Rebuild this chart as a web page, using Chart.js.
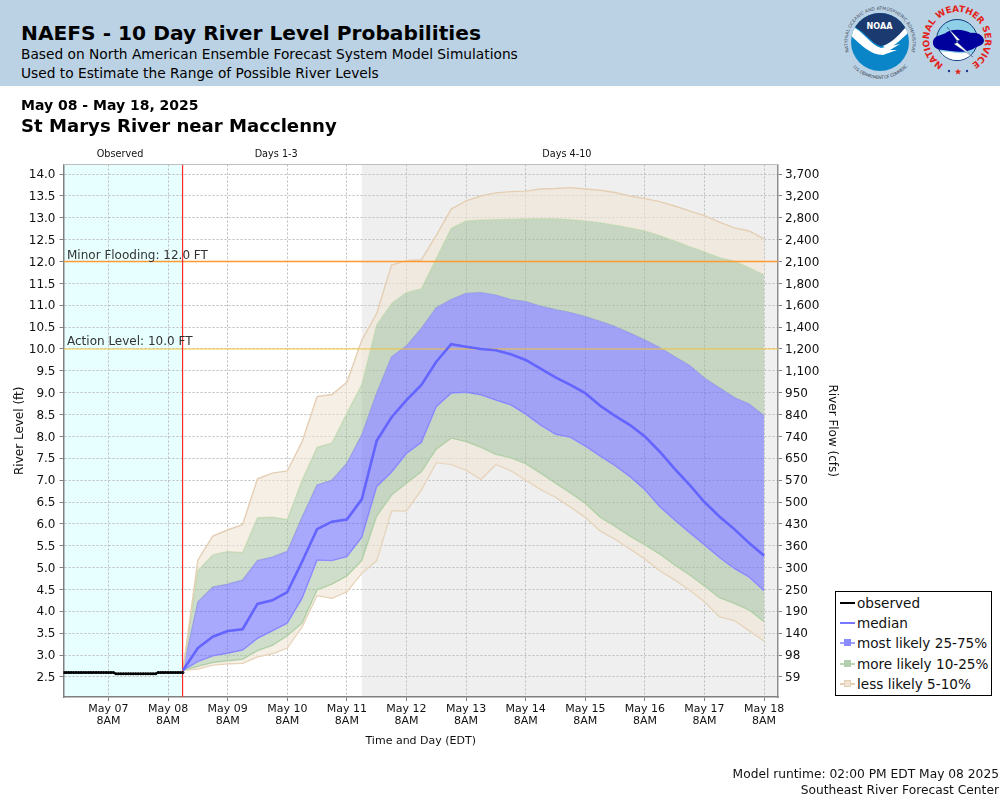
<!DOCTYPE html>
<html><head><meta charset="utf-8"><title>NAEFS River Level Probabilities</title>
<script src="https://cdn.jsdelivr.net/npm/chart.js@4/dist/chart.umd.min.js"></script>
<style>
html,body{margin:0;padding:0;background:#fff;width:1000px;height:800px;overflow:hidden;font-family:"DejaVu Sans",sans-serif;color:#000}
#wrap{position:relative;width:1000px;height:800px}
#chart{position:absolute;left:0;top:0}
#hdr{position:absolute;left:0;top:0;width:1000px;height:86px;background:#bbd2e5}
.t{position:absolute;white-space:nowrap}
#legend{position:absolute;left:835px;top:591px;width:155px;height:103px;border:1px solid #000;background:#fff;z-index:3}
.row{position:absolute;left:0;height:20px;width:155px;font-size:13.6px;line-height:20px;color:#111}
.row span{position:absolute;left:21px;top:0;white-space:nowrap}
.row i{position:absolute;left:4px;top:9px;width:15px;height:2px}
.row b{position:absolute;left:8px;top:6px;width:7px;height:7px;border:0}
</style></head><body><div id="wrap">
<canvas id="chart" width="1000" height="800"></canvas>
<div id="hdr">
<div class="t" style="left:21px;top:21px;font-size:20.2px;font-weight:bold">NAEFS - 10 Day River Level Probabilities</div>
<div class="t" style="left:21px;top:46px;font-size:13.76px">Based on North American Ensemble Forecast System Model Simulations</div>
<div class="t" style="left:21px;top:65px;font-size:13.76px">Used to Estimate the Range of Possible River Levels</div>
<svg class="t" style="left:835px;top:0" width="165" height="86" viewBox="0 0 165 86">
<defs>
<path id="ring1" d="M 14 52 A 32.5 32.5 0 1 1 76 52"/>
<path id="ring2" d="M 18 67 A 36.5 36.5 0 0 0 72 67"/>
<path id="ring3" d="M 108.5 64.5 A 28 28 0 1 1 135.5 64.5"/>
<clipPath id="noaaC"><circle cx="45" cy="42" r="29"/></clipPath>
<clipPath id="nwsC"><circle cx="122" cy="40" r="20"/></clipPath>
</defs>
<text font-size="4.4" fill="#3d4a58" font-family="DejaVu Sans" textLength="130" lengthAdjust="spacing"><textPath href="#ring1">NATIONAL OCEANIC AND ATMOSPHERIC ADMINISTRATION</textPath></text>
<text font-size="4.4" fill="#3d4a58" font-family="DejaVu Sans" textLength="64" lengthAdjust="spacing"><textPath href="#ring2">U.S. DEPARTMENT OF COMMERCE</textPath></text>
<g clip-path="url(#noaaC)">
<rect x="14" y="11" width="62" height="62" fill="#0a85c8"/>
<path d="M14 11H76V27C66 35 56 44 46 46C36 44 30 30 14 24Z" fill="#1b3a6f"/>
<path d="M14 25C28 30 34 44 46 48L65 44L55 50L62 50L48 55C34 55 24 42 14 34Z" fill="#fff"/>
<path d="M76 20C66 34 58 42 48 46L52 49C60 46 68 38 76 30Z" fill="#fff"/>
</g>
<text x="44.5" y="29" text-anchor="middle" font-size="9.5" font-weight="bold" fill="#fff" font-family="DejaVu Sans" textLength="26" lengthAdjust="spacingAndGlyphs">NOAA</text>
<text font-size="9" font-weight="bold" fill="#e2231a" font-family="DejaVu Sans" textLength="146" lengthAdjust="spacing"><textPath href="#ring3">NATIONAL WEATHER SERVICE</textPath></text>
<circle cx="122" cy="40" r="20.5" fill="#8ed0e8" stroke="#123a7a" stroke-width="1"/>
<g clip-path="url(#nwsC)">
<path d="M101 52C110 50 120 54 130 53C136 53 140 55 144 56L142 64H102Z" fill="#fff"/>
</g>
<path d="M98 41C100 34 108 36 112 32C120 28 130 30 136 33C144 32 149 37 149 41C148 46 142 46 138 49C128 54 116 51 108 50C102 50 97 47 98 41Z" fill="#00009c"/>
<path d="M112 27L125 40L121 41L138 57L119 44L123 42Z" fill="#fff" stroke="#123a7a" stroke-width=".4"/>
<circle cx="114" cy="71" r="1.2" fill="#1d3c8f"/><circle cx="132" cy="71" r="1.2" fill="#1d3c8f"/><path d="M123 68.5l.9 2.2 2.4 0-1.9 1.5.7 2.4-2.1-1.4-2.1 1.4.7-2.4-1.9-1.5 2.4 0z" fill="#e2231a"/>
</svg>
</div>
<div class="t" style="left:21px;top:97px;font-size:14px;font-weight:bold">May 08 - May 18, 2025</div>
<div class="t" style="left:21px;top:115px;font-size:18.1px;font-weight:bold">St Marys River near Macclenny</div>
<div id="legend">
<div class="row" style="top:1px"><i style="background:#000"></i><span>observed</span></div>
<div class="row" style="top:21px"><i style="background:#7878ff"></i><span>median</span></div>
<div class="row" style="top:41px"><i style="background:#a0a0ff"></i><b style="background:#8a8aff"></b><span>most likely 25-75%</span></div>
<div class="row" style="top:62px"><i style="background:#b9d8b0"></i><b style="background:#b4cfb0"></b><span>more likely 10-25%</span></div>
<div class="row" style="top:82px"><i style="background:#e4cfb4"></i><b style="background:#efe3d4;outline:1px solid #e4cfb4;outline-offset:-1px"></b><span>less likely 5-10%</span></div>
</div>
<div class="t" style="right:1px;top:767px;font-size:12.26px;color:#111">Model runtime: 02:00 PM EDT May 08 2025</div>
<div class="t" style="right:1px;top:783px;font-size:12.26px;color:#111">Southeast River Forecast Center</div>
</div>
<script>
// x values are hours after May 07 8AM
const xMin = -18.1, xMax = 269.6;
const dayTicks = [0,24,48,72,96,120,144,168,192,216,240,264];
const dayLabels = ['May 07','May 08','May 09','May 10','May 11','May 12','May 13','May 14','May 15','May 16','May 17','May 18'];
const yMin = 2.04, yMax = 14.22;
const levelTicks = [2.5,3,3.5,4,4.5,5,5.5,6,6.5,7,7.5,8,8.5,9,9.5,10,10.5,11,11.5,12,12.5,13,13.5,14];
const flowLabels = ['59','98','140','190','250','300','360','430','500','570','650','740','840','950','1,100','1,200','1,400','1,600','1,800','2,100','2,400','2,800','3,200','3,700'];
const runtimeHour = 29.85, days4Hour = 102;
const minorFlood = 12, actionLevel = 10;
const obsHours = [-18,-17,-16,-15,-14,-13,-12,-11,-10,-9,-8,-7,-6,-5,-4,-3,-2,-1,0,1,2,3,4,5,6,7,8,9,10,11,12,13,14,15,16,17,18,19,20,21,22,23,24,25,26,27,28,29,30];
const observed = [2.6,2.6,2.6,2.6,2.6,2.6,2.6,2.6,2.6,2.6,2.6,2.6,2.6,2.6,2.6,2.6,2.6,2.6,2.6,2.6,2.6,2.57,2.57,2.57,2.57,2.57,2.57,2.57,2.57,2.57,2.57,2.57,2.57,2.57,2.57,2.57,2.57,2.57,2.6,2.6,2.6,2.6,2.6,2.6,2.6,2.6,2.6,2.6,2.6];
const fcstHours = [30,36,42,48,54,60,66,72,78,84,90,96,102,108,114,120,126,132,138,144,150,156,162,168,174,180,186,192,198,204,210,216,222,228,234,240,246,252,258,264];
const median = [2.65,3.16,3.42,3.55,3.59,4.17,4.25,4.44,5.14,5.88,6.05,6.10,6.56,7.90,8.44,8.83,9.18,9.71,10.11,10.05,10.0,9.97,9.88,9.75,9.55,9.35,9.18,8.99,8.70,8.47,8.26,8.0,7.65,7.26,6.89,6.50,6.17,5.88,5.56,5.27];
const q75 = [2.65,4.21,4.55,4.62,4.71,5.16,5.24,5.37,6.15,6.89,7.0,7.38,8.03,8.99,9.82,10.07,10.47,10.94,11.13,11.27,11.29,11.23,11.13,11.08,10.98,10.90,10.83,10.74,10.63,10.51,10.36,10.20,10.03,9.82,9.62,9.33,9.11,8.89,8.74,8.47];
const q90 = [2.65,4.93,5.29,5.37,5.34,6.14,6.15,6.10,7.0,7.75,7.85,8.53,9.18,10.55,11.04,11.29,11.38,12.07,12.76,12.93,12.95,12.96,12.97,12.98,12.98,12.98,12.96,12.93,12.89,12.83,12.77,12.70,12.59,12.47,12.34,12.22,12.09,12.01,11.86,11.69];
const q95 = [2.65,5.17,5.72,5.86,5.98,7.03,7.16,7.21,7.88,8.91,8.96,9.24,10.2,10.81,11.92,12.02,12.04,12.6,13.2,13.39,13.5,13.57,13.6,13.61,13.66,13.67,13.69,13.66,13.63,13.58,13.5,13.44,13.37,13.27,13.16,13.05,12.9,12.77,12.7,12.52];
const q25 = [2.65,2.85,2.98,3.04,3.11,3.38,3.55,3.73,4.30,5.17,5.16,5.25,5.69,6.85,7.18,7.61,7.86,8.68,8.99,9.01,8.95,8.83,8.72,8.51,8.26,8.05,7.98,7.78,7.55,7.33,7.08,6.78,6.39,6.09,5.80,5.52,5.23,4.98,4.78,4.47];
const q10 = [2.65,2.74,2.83,2.87,2.90,3.10,3.22,3.44,3.73,4.49,4.62,4.81,5.16,6.18,6.66,6.93,7.19,7.71,7.96,7.88,7.75,7.59,7.51,7.38,7.16,6.93,6.71,6.47,6.15,5.94,5.72,5.52,5.31,5.06,4.83,4.58,4.31,4.18,4.03,3.76];
const q05 = [2.65,2.68,2.77,2.80,2.81,2.96,3.03,3.16,3.65,4.36,4.30,4.45,4.87,5.16,6.30,6.30,6.78,7.40,7.36,7.23,7.02,7.36,7.22,7.0,6.79,6.61,6.39,6.15,5.84,5.65,5.43,5.2,4.93,4.72,4.49,4.22,3.88,3.79,3.56,3.32];

const pts = (xs, ys) => xs.map((x,i)=>({x, y:ys[i]}));
const TAN='rgba(240,228,212,.6)', GREEN='rgba(160,190,150,.5)', BLUE='rgba(105,105,252,.58)';
const TANL='#e4cfb4', GREENL='#b9d8b0', BLUEL='#9a9aff';
const band=(label,ys,fillC,line)=>({label,data:pts(fcstHours,ys),borderColor:line,borderWidth:1.4,pointRadius:0,tension:0,fill:fillC?{target:'+1'}:false,backgroundColor:fillC||'transparent'});

const regions = {id:'regions',
  beforeDraw(c){const {ctx,chartArea:a,scales:{x}}=c;ctx.save();
    const rx=x.getPixelForValue(runtimeHour), gx=x.getPixelForValue(days4Hour);
    ctx.fillStyle='#e8ffff';ctx.fillRect(a.left,a.top,rx-a.left,a.height);
    ctx.fillStyle='#efefef';ctx.fillRect(gx,a.top,a.right-gx,a.height);
    ctx.restore();},
  afterDraw(c){const {ctx,chartArea:a,scales:{x,y}}=c;ctx.save();
    ctx.strokeStyle='#bdbdbd';ctx.lineWidth=1.2;ctx.beginPath();ctx.moveTo(a.left,a.top);ctx.lineTo(a.right,a.top);ctx.stroke();
    ctx.font='9.7px "DejaVu Sans"';ctx.fillStyle='#111';ctx.textAlign='center';ctx.textBaseline='middle';
    const rx=x.getPixelForValue(runtimeHour), gx=x.getPixelForValue(days4Hour);
    ctx.fillText('Observed',(a.left+rx)/2-3,a.top-10);
    ctx.fillText('Days 1-3',(rx+gx)/2+4,a.top-10);
    ctx.fillText('Days 4-10',(gx+a.right)/2-3,a.top-10);
    ctx.font='12px "DejaVu Sans"';ctx.fillStyle='#333';ctx.textAlign='left';ctx.textBaseline='alphabetic';
    ctx.fillText('Minor Flooding: 12.0 FT',a.left+3.5,y.getPixelForValue(minorFlood)-3);
    ctx.fillText('Action Level: 10.0 FT',a.left+3.5,y.getPixelForValue(actionLevel)-3.5);
    ctx.restore();}
};
const gridStyle={color:'#bcbcbc',lineWidth:1,tickColor:'#808080',tickLength:4,tickBorderDash:[],z:0};
const borderStyle=c=>({color:c,width:1.5,dash:[2,2]});
new Chart(document.getElementById('chart').getContext('2d'),{
  type:'line',
  data:{datasets:[
    {label:'observed',data:pts(obsHours,observed),borderColor:'#000',backgroundColor:'#000',borderWidth:2,pointRadius:.5,tension:0,fill:false},
    {label:'median',data:pts(fcstHours,median),borderColor:'#6464ff',borderWidth:2.6,pointRadius:0,tension:0,fill:false},
    {label:'runtime',data:[{x:runtimeHour,y:yMin},{x:runtimeHour,y:yMax}],borderColor:'#ff2a2a',borderWidth:1.2,pointRadius:0,fill:false},
    {label:'Minor Flooding',data:[{x:xMin,y:minorFlood},{x:xMax,y:minorFlood}],borderColor:'#ff9a30',borderWidth:1.5,pointRadius:0,fill:false},
    {label:'Action Level',data:[{x:xMin,y:actionLevel},{x:xMax,y:actionLevel}],borderColor:'#f5c842',borderWidth:1,pointRadius:0,fill:false},
    band('5-10 high',q95,TAN,TANL),
    band('10-25 high',q90,GREEN,GREENL),
    band('25-75 high',q75,BLUE,BLUEL),
    band('25-75 low',q25,GREEN,BLUEL),
    band('10-25 low',q10,TAN,GREENL),
    band('5-10 low',q05,null,TANL)
  ]},
  plugins:[regions],
  options:{
    responsive:false,animation:false,devicePixelRatio:1,
    layout:{padding:{left:0,top:164.5,right:161,bottom:52}},
    plugins:{legend:{display:false},tooltip:{enabled:false}},
    scales:{
      x:{type:'linear',min:xMin,max:xMax,
        afterBuildTicks(s){s.ticks=dayTicks.map(v=>({value:v}));},
        afterFit(s){s.height=51;},
        grid:gridStyle,border:borderStyle('#808080'),
        ticks:{autoSkip:false,maxRotation:0,color:'#111',font:{family:'DejaVu Sans',size:11,lineHeight:1.1},padding:2,
          callback(v){const i=dayTicks.indexOf(v);return i<0?'':[dayLabels[i],'8AM'];}},
        title:{display:true,text:'Time and Day (EDT)',color:'#111',font:{family:'DejaVu Sans',size:11},padding:{top:0,bottom:0}}},
      y:{type:'linear',position:'left',min:yMin,max:yMax,
        afterBuildTicks(s){s.ticks=levelTicks.map(v=>({value:v}));},
        afterFit(s){s.width=63.5;},
        grid:gridStyle,border:borderStyle('#808080'),
        ticks:{autoSkip:false,color:'#111',font:{family:'DejaVu Sans',size:12},padding:4,labelOffset:1,callback:v=>v.toFixed(1)},
        title:{display:true,text:'River Level (ft)',color:'#111',font:{family:'DejaVu Sans',size:12},padding:{top:12.5,bottom:0}}},
      y1:{type:'linear',position:'right',min:yMin,max:yMax,
        afterBuildTicks(s){s.ticks=levelTicks.map(v=>({value:v}));},
        afterFit(s){s.width=61;},
        grid:{display:true,drawOnChartArea:false,tickColor:'#808080',tickLength:4},border:{color:'#909090',width:1.5},
        ticks:{autoSkip:false,color:'#111',font:{family:'DejaVu Sans',size:12},padding:3,labelOffset:1,
          callback(v){const i=levelTicks.indexOf(v);return i<0?'':flowLabels[i];}},
        title:{display:true,text:'River Flow (cfs)',color:'#111',font:{family:'DejaVu Sans',size:12},padding:{top:0,bottom:0}}}
    }
  }
});
</script></body></html>
